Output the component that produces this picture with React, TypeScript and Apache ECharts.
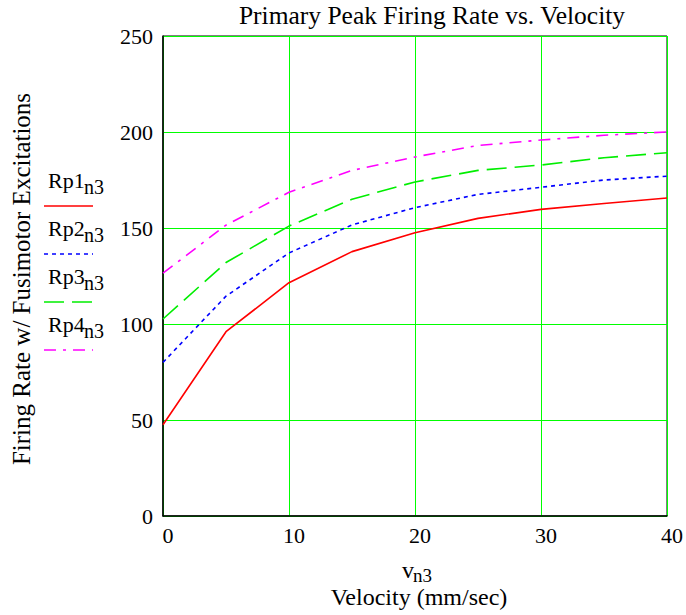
import React, { useEffect, useRef } from "react";
import * as echarts from "echarts";

const velocity = [0, 5, 10, 15, 20, 25, 30, 35, 40];
const rp1 = [47.5, 96, 121.5, 137.7, 147.5, 155, 159.7, 162.8, 165.6];
const rp2 = [80, 114.5, 137, 151.6, 160.6, 167.5, 171.2, 175, 177];
const rp3 = [102.6, 132, 151, 165, 174, 180, 182.8, 186.6, 189.2];
const rp4 = [126.5, 151.5, 168.6, 180, 187, 193, 195.8, 198.3, 200];
const seriesNames = ["Rp1", "Rp2", "Rp3", "Rp4"];
const xTicks = [0, 10, 20, 30, 40];
const yTicks = [0, 50, 100, 150, 200, 250];

const FONT = "Liberation Serif";
const GRID_GREEN = "#00ff00";

export default function App() {
  const ref = useRef<HTMLDivElement>(null);
  useEffect(() => {
    if (!ref.current) return;
    const chart = echarts.init(ref.current, undefined, { renderer: "svg" });
    const colors = ["#ff0000", "#0000ff", "#00ee00", "#ff00ff"];
    const dashes: any[] = ["solid", [4, 4], [20, 8], [12, 7, 3, 7]];
    const all = [rp1, rp2, rp3, rp4];
    const legendY = [180, 228, 276, 324];
    const lineY = [206, 254, 302, 350];
    const txt = (size: number) => ({ fontFamily: FONT, fontSize: size, fill: "#000" });
    const legendGraphics: any[] = [];
    seriesNames.forEach((n, i) => {
      legendGraphics.push({
        type: "text",
        x: 48,
        y: legendY[i],
        style: { text: n, ...txt(22), align: "left", verticalAlign: "middle" },
      });
      legendGraphics.push({
        type: "text",
        x: 84,
        y: legendY[i] + 7,
        style: { text: "n3", ...txt(20), align: "left", verticalAlign: "middle" },
      });
      legendGraphics.push({
        type: "line",
        shape: { x1: 44, y1: lineY[i], x2: 93, y2: lineY[i] },
        style: {
          stroke: colors[i],
          lineWidth: 1.5,
          lineDash: dashes[i] === "solid" ? null : dashes[i],
        },
      });
    });
    const splitLine = { show: true, lineStyle: { color: GRID_GREEN, width: 1 } };
    chart.setOption({
      animation: false,
      grid: {
        left: 163,
        top: 36,
        width: 506,
        height: 480,
        show: true,
        borderColor: "#000",
        borderWidth: 1,
        backgroundColor: "transparent",
      },
      xAxis: {
        type: "value",
        min: xTicks[0],
        max: xTicks[xTicks.length - 1],
        interval: 10,
        axisLine: { show: true, lineStyle: { color: "#000", width: 1.5 } },
        axisTick: { show: false },
        splitLine,
        axisLabel: {
          fontFamily: FONT,
          fontSize: 22,
          color: "#000",
          margin: 8,
          padding: [0, 0, 0, 10],
        },
      },
      yAxis: {
        type: "value",
        min: yTicks[0],
        max: yTicks[yTicks.length - 1],
        interval: 50,
        axisLine: { show: true, lineStyle: { color: "#000", width: 1.5 } },
        axisTick: { show: false },
        splitLine,
        axisLabel: { fontFamily: FONT, fontSize: 22, color: "#000", margin: 10 },
      },
      series: all.map((d, i) => ({
        name: seriesNames[i],
        type: "line",
        data: velocity.map((v, j) => [v, d[j]]),
        showSymbol: false,
        symbol: "none",
        lineStyle: { color: colors[i], width: 1.6, type: dashes[i] },
        z: 5,
      })),
      graphic: [
        {
          type: "text",
          x: 432,
          y: 15,
          style: {
            text: "Primary Peak Firing Rate vs. Velocity",
            ...txt(25.5),
            align: "center",
            verticalAlign: "middle",
          },
        },
        {
          type: "text",
          x: 21,
          y: 279,
          rotation: Math.PI / 2,
          style: {
            text: "Firing Rate w/ Fusimotor Excitations",
            ...txt(25),
            align: "center",
            verticalAlign: "middle",
          },
        },
        {
          type: "text",
          x: 402,
          y: 570,
          style: { text: "v", ...txt(24), align: "left", verticalAlign: "middle" },
        },
        {
          type: "text",
          x: 413,
          y: 575,
          style: { text: "n3", ...txt(19), align: "left", verticalAlign: "middle" },
        },
        {
          type: "text",
          x: 419,
          y: 597,
          style: {
            text: "Velocity (mm/sec)",
            ...txt(24),
            align: "center",
            verticalAlign: "middle",
          },
        },
        ...legendGraphics,
      ],
    });
    return () => chart.dispose();
  }, []);
  return (
    <div
      ref={ref}
      style={{ position: "fixed", left: 0, top: 0, width: 686, height: 615, background: "#fff" }}
    />
  );
}
